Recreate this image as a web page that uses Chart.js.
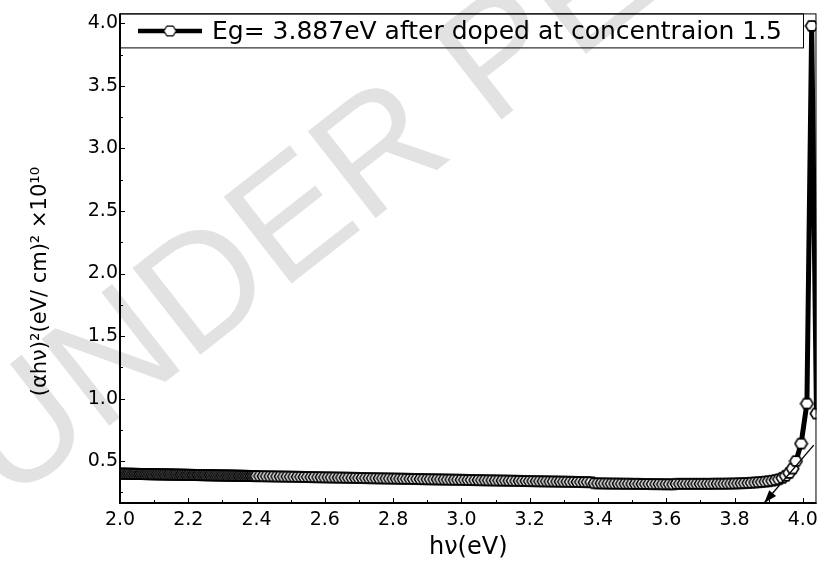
<!DOCTYPE html>
<html>
<head>
<meta charset="utf-8">
<script src="https://cdn.jsdelivr.net/npm/chart.js@4.4.1/dist/chart.umd.min.js"></script>
<style>
  html, body { margin: 0; padding: 0; background: #fff; }
  #box { width: 824px; height: 565px; }
</style>
</head>
<body>
<div id="box"><canvas id="myChart"></canvas></div>
<script>
// photon energy hv (eV) - points get denser toward low energy (constant wavelength step)
const energy = [
  2.000,2.005,2.010,2.015,2.020,2.025,2.030,2.035,2.040,2.045,
  2.050,2.055,2.060,2.065,2.070,2.075,2.080,2.085,2.090,2.095,
  2.100,2.105,2.110,2.115,2.120,2.125,2.130,2.135,2.140,2.145,
  2.150,2.155,2.160,2.165,2.170,2.175,2.180,2.185,2.190,2.195,
  2.200,2.205,2.210,2.215,2.220,2.225,2.230,2.235,2.240,2.245,
  2.250,2.255,2.260,2.265,2.270,2.275,2.280,2.285,2.290,2.295,
  2.300,2.305,2.310,2.315,2.320,2.325,2.330,2.335,2.340,2.345,
  2.350,2.355,2.360,2.365,2.370,2.375,2.380,2.385,2.390,2.395,
  2.40,2.41,2.42,2.43,2.44,2.45,2.46,2.47,2.48,2.49,
  2.50,2.51,2.52,2.53,2.54,2.55,2.56,2.57,2.58,2.59,
  2.60,2.61,2.62,2.63,2.64,2.65,2.66,2.67,2.68,2.69,
  2.70,2.71,2.72,2.73,2.74,2.75,2.76,2.77,2.78,2.79,
  2.80,2.81,2.82,2.83,2.84,2.85,2.86,2.87,2.88,2.89,
  2.90,2.91,2.92,2.93,2.94,2.95,2.96,2.97,2.98,2.99,
  3.00,3.01,3.02,3.03,3.04,3.05,3.06,3.07,3.08,3.09,
  3.10,3.11,3.12,3.13,3.14,3.15,3.16,3.17,3.18,3.19,
  3.20,3.21,3.22,3.23,3.24,3.25,3.26,3.27,3.28,3.29,
  3.30,3.31,3.32,3.33,3.34,3.35,3.36,3.37,3.38,3.39,
  3.40,3.41,3.42,3.43,3.44,3.45,3.46,3.47,3.48,3.49,
  3.50,3.51,3.52,3.53,3.54,3.55,3.56,3.57,3.58,3.59,
  3.60,3.61,3.62,3.63,3.64,3.65,3.66,3.67,3.68,3.69,
  3.70,3.71,3.72,3.73,3.74,3.75,3.76,3.77,3.78,3.79,
  3.80,3.81,3.82,3.83,3.84,3.85,3.86,3.87,3.88,3.89,
  3.90,3.91,3.92,3.93,3.94,3.95,3.96,3.97,3.98,3.995,
  4.012,4.026,4.04
];

// (alpha h v)^2 in units of 1e10 (eV/cm)^2
const absorb = [
  0.400,0.400,0.400,0.399,0.399,0.399,0.399,0.398,0.398,0.398,
  0.398,0.397,0.397,0.397,0.397,0.396,0.396,0.396,0.396,0.395,
  0.395,0.395,0.395,0.394,0.394,0.394,0.394,0.393,0.393,0.393,
  0.393,0.392,0.392,0.392,0.392,0.391,0.391,0.391,0.391,0.390,
  0.390,0.390,0.390,0.389,0.389,0.389,0.389,0.388,0.388,0.388,
  0.388,0.387,0.387,0.387,0.387,0.386,0.386,0.386,0.386,0.385,
  0.385,0.385,0.385,0.384,0.384,0.384,0.384,0.383,0.383,0.383,
  0.383,0.382,0.382,0.382,0.382,0.381,0.381,0.381,0.381,0.380,
  0.380,0.380,0.379,0.379,0.378,0.378,0.377,0.377,0.376,0.376,
  0.375,0.375,0.374,0.374,0.373,0.373,0.372,0.372,0.371,0.371,
  0.370,0.370,0.369,0.369,0.368,0.368,0.367,0.367,0.366,0.366,
  0.365,0.365,0.364,0.364,0.363,0.363,0.362,0.362,0.361,0.361,
  0.360,0.360,0.359,0.359,0.358,0.358,0.357,0.357,0.356,0.356,
  0.355,0.355,0.354,0.354,0.353,0.353,0.352,0.352,0.351,0.351,
  0.350,0.350,0.349,0.349,0.348,0.348,0.347,0.347,0.346,0.346,
  0.345,0.345,0.344,0.344,0.343,0.343,0.342,0.342,0.341,0.341,
  0.340,0.340,0.339,0.339,0.338,0.338,0.337,0.337,0.336,0.336,
  0.335,0.335,0.334,0.334,0.333,0.333,0.332,0.332,0.331,0.323,
  0.322,0.322,0.321,0.321,0.320,0.320,0.320,0.319,0.319,0.319,
  0.318,0.318,0.318,0.317,0.317,0.317,0.316,0.316,0.316,0.315,
  0.315,0.315,0.314,0.318,0.318,0.318,0.318,0.318,0.318,0.318,
  0.318,0.318,0.318,0.318,0.319,0.319,0.319,0.319,0.320,0.320,
  0.321,0.322,0.323,0.324,0.325,0.327,0.329,0.331,0.333,0.336,
  0.339,0.343,0.348,0.355,0.366,0.382,0.405,0.440,0.500,0.640,
  0.960,3.980,0.880
];

const xTicks = [2.0, 2.2, 2.4, 2.6, 2.8, 3.0, 3.2, 3.4, 3.6, 3.8, 4.0];
const xMinor = [2.1, 2.3, 2.5, 2.7, 2.9, 3.1, 3.3, 3.5, 3.7, 3.9];
const yTicks = [0.5, 1.0, 1.5, 2.0, 2.5, 3.0, 3.5, 4.0];
const yMinor = [0.25, 0.75, 1.25, 1.75, 2.25, 2.75, 3.25, 3.75];

const legendText = 'Eg= 3.887eV after doped at concentraion 1.5';
const bandGap = 3.887;
const tangentTop = [4.032, 0.628];

const FONT = 'DejaVu Sans';

// hexagon marker like the Origin "hexagon" symbol
function hexagon(r, lw) {
  const w = Math.ceil(r * 2 + 2), h = Math.ceil(r * 1.8 + 2);
  const c = document.createElement('canvas');
  c.width = w; c.height = h;
  const g = c.getContext('2d');
  g.beginPath();
  for (let i = 0; i < 6; i++) {
    const a = i * Math.PI / 3;
    const px = w / 2 + r * Math.cos(a), py = h / 2 + r * 0.9 * Math.sin(a);
    if (i === 0) g.moveTo(px, py); else g.lineTo(px, py);
  }
  g.closePath();
  g.fillStyle = '#fff';
  g.fill();
  g.strokeStyle = '#000';
  g.lineWidth = lw;
  g.stroke();
  return c;
}
const hexMark = hexagon(6.2, 1.6);
const hexLegend = hexagon(6.2, 1.1);

const decor = {
  id: 'decor',
  beforeDraw(chart) {
    const ctx = chart.ctx;
    ctx.save();
    ctx.translate(8, 505);
    ctx.rotate(-38 * Math.PI / 180);
    ctx.font = '160px "Liberation Sans"';
    ctx.fillStyle = '#e2e2e2';
    ctx.fillText('UNDER PEER REVIEW', 0, 0);
    ctx.restore();
  },
  afterDatasetsDraw(chart) {
    const ctx = chart.ctx;
    const a = chart.chartArea;
    const xs = chart.scales.x, ys = chart.scales.y;
    ctx.save();

    // tangent arrow to the band gap
    const x1 = xs.getPixelForValue(tangentTop[0]), y1 = ys.getPixelForValue(tangentTop[1]);
    const x2 = xs.getPixelForValue(bandGap), y2 = a.bottom;
    ctx.strokeStyle = '#000';
    ctx.lineWidth = 1.3;
    ctx.beginPath();
    ctx.moveTo(x1, y1);
    ctx.lineTo(x2, y2);
    ctx.stroke();
    const ang = Math.atan2(y2 - y1, x2 - x1);
    ctx.beginPath();
    ctx.moveTo(x2, y2);
    ctx.lineTo(x2 - 13 * Math.cos(ang) + 4.5 * Math.sin(ang), y2 - 13 * Math.sin(ang) - 4.5 * Math.cos(ang));
    ctx.lineTo(x2 - 13 * Math.cos(ang) - 4.5 * Math.sin(ang), y2 - 13 * Math.sin(ang) + 4.5 * Math.cos(ang));
    ctx.closePath();
    ctx.fillStyle = '#000';
    ctx.fill();

    // frame
    ctx.lineWidth = 1;
    ctx.strokeRect(a.left, a.top + 0.5, a.right - a.left - 0.5, a.bottom - a.top);
    ctx.lineWidth = 2;
    ctx.beginPath();
    ctx.moveTo(a.left, a.top);
    ctx.lineTo(a.left, a.bottom);
    ctx.lineTo(a.right, a.bottom);
    ctx.stroke();

    // inward ticks
    ctx.lineWidth = 1;
    ctx.beginPath();
    xTicks.forEach(v => { const p = Math.round(xs.getPixelForValue(v)) + 0.5; ctx.moveTo(p, a.bottom); ctx.lineTo(p, a.bottom - 5); });
    xMinor.forEach(v => { const p = Math.round(xs.getPixelForValue(v)) + 0.5; ctx.moveTo(p, a.bottom); ctx.lineTo(p, a.bottom - 3); });
    yTicks.forEach(v => { const p = Math.round(ys.getPixelForValue(v)) + 0.5; ctx.moveTo(a.left, p); ctx.lineTo(a.left + 5, p); });
    yMinor.forEach(v => { const p = Math.round(ys.getPixelForValue(v)) + 0.5; ctx.moveTo(a.left, p); ctx.lineTo(a.left + 3, p); });
    ctx.stroke();

    // legend box
    const ly = 31;
    ctx.lineWidth = 1;
    ctx.strokeRect(a.left + 0.5, a.top + 0.5, 803 - a.left, 34);
    ctx.lineWidth = 4.5;
    ctx.beginPath();
    ctx.moveTo(a.left + 18, ly);
    ctx.lineTo(a.left + 82, ly);
    ctx.stroke();
    ctx.drawImage(hexLegend, a.left + 50 - hexLegend.width / 2, ly - hexLegend.height / 2);
    ctx.font = '25px "' + FONT + '"';
    ctx.fillStyle = '#000';
    ctx.textBaseline = 'middle';
    ctx.fillText(legendText, a.left + 92, ly + 1);
    ctx.restore();
  }
};

const ctx = document.getElementById('myChart');

new Chart(ctx, {
  type: 'line',
  data: {
    datasets: [{
      label: legendText,
      data: energy.map((e, i) => ({ x: e, y: absorb[i] })),
      borderColor: '#000',
      borderWidth: 5,
      pointStyle: hexMark,
      pointRadius: 6,
      tension: 0
    }]
  },
  options: {
    responsive: true,
    maintainAspectRatio: false,
    animation: false,
    layout: { autoPadding: false, padding: { top: 13, right: 4, left: 0, bottom: 0 } },
    plugins: { legend: { display: false }, tooltip: { enabled: false } },
    scales: {
      x: {
        type: 'linear',
        min: 2.0,
        max: 4.04,
        afterBuildTicks: s => { s.ticks = xTicks.map(v => ({ value: v })); },
        afterFit: s => { s.height = 62; },
        grid: { display: false, drawTicks: false },
        border: { display: false },
        ticks: {
          autoSkip: false, maxRotation: 0, padding: 6, color: '#000',
          font: { family: FONT, size: 19 },
          callback: v => Number(v).toFixed(1)
        },
        title: {
          display: true, text: 'hν(eV)', color: '#000',
          font: { family: FONT, size: 24 },
          padding: { top: 0, bottom: 3 }
        }
      },
      y: {
        min: 0.165,
        max: 4.08,
        afterBuildTicks: s => { s.ticks = yTicks.map(v => ({ value: v })); },
        afterFit: s => { s.width = 120; },
        grid: { display: false, drawTicks: false },
        border: { display: false },
        ticks: {
          padding: 2, color: '#000',
          font: { family: FONT, size: 19 },
          callback: v => Number(v).toFixed(1)
        },
        title: {
          display: true, text: '(αhν)²(eV/ cm)² ×10¹⁰       ', color: '#000',
          font: { family: FONT, size: 21 },
          padding: { top: 28, bottom: 0 }
        }
      }
    }
  },
  plugins: [decor]
});
</script>
</body>
</html>
